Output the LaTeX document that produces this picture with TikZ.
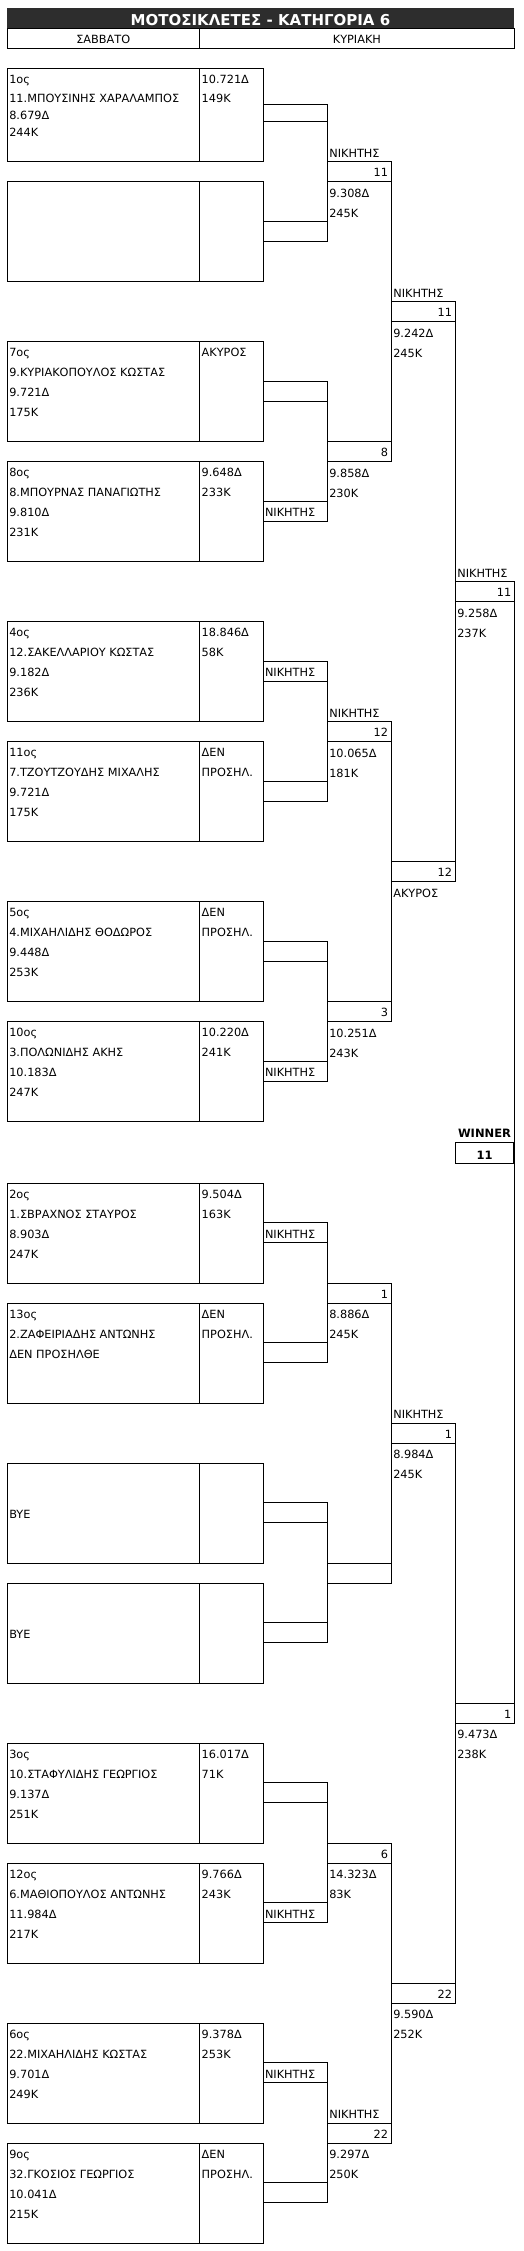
\documentclass[tikz,border=0pt]{standalone}
\usepackage{fontspec}
\setmainfont{DejaVu Sans}
\definecolor{titlegray}{RGB}{45,45,45}
\newcommand\fs{\fontsize{11.3}{13.6}\selectfont}
\tikzset{
 bx/.style={draw, line width=1pt, anchor=north west, inner sep=0pt, outer sep=0pt},
 tl/.style={anchor=base west, inner sep=0pt, outer sep=0pt, font=\fs},
 tr/.style={anchor=base east, inner sep=0pt, outer sep=0pt, font=\fs},
 tc/.style={anchor=base, inner sep=0pt, outer sep=0pt, font=\fs},
 ln/.style={line width=1pt},
}
% player box: name, top, left lines 1-4, right lines 1-2, round-1 cell label
\newcommand\plbox[9]{%
 \node[bx, minimum width=192.5pt, minimum height=100pt] (#1L) at (7,#2) {};
 \node[bx, minimum width=63.5pt, minimum height=100pt] (#1R) at (199.5,#2) {};
 \node[bx, minimum width=64pt, minimum height=20pt] (#1c) at (263,#2+39.5) {};
 \node[tl] (#1t1) at ([xshift=2.3pt,yshift=-15.2pt]#1L.north west) {#3};
 \node[tl] (#1t2) at ([xshift=2.3pt,yshift=-35.2pt]#1L.north west) {#4};
 \node[tl] (#1t3) at ([xshift=2.3pt,yshift=-55.2pt]#1L.north west) {#5};
 \node[tl] (#1t4) at ([xshift=2.3pt,yshift=-75.2pt]#1L.north west) {#6};
 \node[tl] (#1r1) at ([xshift=2.2pt,yshift=-15.2pt]#1R.north west) {#7};
 \node[tl] (#1r2) at ([xshift=2.2pt,yshift=-35.2pt]#1R.north west) {#8};
 \node[tl] (#1cl) at ([xshift=2pt,yshift=-15.2pt]#1c.north west) {#9};
}
% round cell: name, x, width, top, number, label above, below 1, below 2
\newcommand\rcell[8]{%
 \node[bx, minimum width=#3pt, minimum height=20pt] (#1) at (#2,#4) {};
 \node[tr] (#1n) at ([xshift=-3pt,yshift=-15.2pt]#1.north east) {#5};
 \node[tl] (#1a) at ([xshift=2.3pt,yshift=4.7pt]#1.north west) {#6};
 \node[tl] (#1b) at ([xshift=2.3pt,yshift=-15.3pt]#1.south west) {#7};
 \node[tl] (#1c) at ([xshift=2.3pt,yshift=-35.3pt]#1.south west) {#8};
}
\begin{document}
\begin{tikzpicture}[x=1pt,y=-1pt]
\useasboundingbox (0,0) rectangle (523,2251);
% title and header
\node[anchor=north west, fill=titlegray, minimum width=507.3pt, minimum height=20.3pt, inner sep=0pt, outer sep=0pt] (title) at (7,8) {};
\node[anchor=base, inner sep=0pt, text=white, font=\bfseries\fontsize{15}{18}\selectfont] (titlet) at (260.5,25) {ΜΟΤΟΣΙΚΛΕΤΕΣ - ΚΑΤΗΓΟΡΙΑ 6};
\node[bx, minimum width=192.5pt, minimum height=20pt] (sat) at (7,28.3) {};
\node[bx, minimum width=314.8pt, minimum height=20pt] (sun) at (199.5,28.3) {};
\node[tc] (satt) at (103.25,43.8) {ΣΑΒΒΑΤΟ};
\node[tc] (sunt) at (356.9,43.8) {ΚΥΡΙΑΚΗ};

% ---- pair 1 (first box has irregular rows)
\node[bx, minimum width=192.5pt, minimum height=93.4pt] (p1aL) at (7,68.3) {};
\node[bx, minimum width=63.5pt, minimum height=93.4pt] (p1aR) at (199.5,68.3) {};
\node[bx, minimum width=64pt, minimum height=16.7pt] (p1ac) at (263,104.3) {};
\node[tl] (p1at1) at (9.3,83.3) {1ος};
\node[tl] (p1at2) at (9.3,102.7) {11.ΜΠΟΥΣΙΝΗΣ ΧΑΡΑΛΑΜΠΟΣ};
\node[tl] (p1at3) at (9.3,119) {8.679Δ};
\node[tl] (p1at4) at (9.3,136.7) {244K};
\node[tl] (p1ar1) at (201.7,83.3) {10.721Δ};
\node[tl] (p1ar2) at (201.7,102.7) {149K};
\plbox{p1b}{181.7}{}{}{}{}{}{}{}
% ---- pair 2
\plbox{p2a}{341.7}{7ος}{9.ΚΥΡΙΑΚΟΠΟΥΛΟΣ ΚΩΣΤΑΣ}{9.721Δ}{175K}{ΑΚΥΡΟΣ}{}{}
\plbox{p2b}{461.7}{8ος}{8.ΜΠΟΥΡΝΑΣ ΠΑΝΑΓΙΩΤΗΣ}{9.810Δ}{231K}{9.648Δ}{233K}{ΝΙΚΗΤΗΣ}
% ---- pair 3
\plbox{p3a}{621.7}{4ος}{12.ΣΑΚΕΛΛΑΡΙΟΥ ΚΩΣΤΑΣ}{9.182Δ}{236K}{18.846Δ}{58K}{ΝΙΚΗΤΗΣ}
\plbox{p3b}{741.7}{11ος}{7.ΤΖΟΥΤΖΟΥΔΗΣ ΜΙΧΑΛΗΣ}{9.721Δ}{175K}{ΔΕΝ}{ΠΡΟΣΗΛ.}{}
% ---- pair 4
\plbox{p4a}{901.7}{5ος}{4.ΜΙΧΑΗΛΙΔΗΣ ΘΟΔΩΡΟΣ}{9.448Δ}{253K}{ΔΕΝ}{ΠΡΟΣΗΛ.}{}
\plbox{p4b}{1021.7}{10ος}{3.ΠΟΛΩΝΙΔΗΣ ΑΚΗΣ}{10.183Δ}{247K}{10.220Δ}{241K}{ΝΙΚΗΤΗΣ}
% ---- pair 5
\plbox{p5a}{1183.3}{2ος}{1.ΣΒΡΑΧΝΟΣ ΣΤΑΥΡΟΣ}{8.903Δ}{247K}{9.504Δ}{163K}{ΝΙΚΗΤΗΣ}
\plbox{p5b}{1303.3}{13ος}{2.ΖΑΦΕΙΡΙΑΔΗΣ ΑΝΤΩΝΗΣ}{ΔΕΝ ΠΡΟΣΗΛΘΕ}{}{ΔΕΝ}{ΠΡΟΣΗΛ.}{}
% ---- pair 6
\plbox{p6a}{1463.3}{}{}{BYE}{}{}{}{}
\plbox{p6b}{1583.3}{}{}{BYE}{}{}{}{}
% ---- pair 7
\plbox{p7a}{1743.3}{3ος}{10.ΣΤΑΦΥΛΙΔΗΣ ΓΕΩΡΓΙΟΣ}{9.137Δ}{251K}{16.017Δ}{71K}{}
\plbox{p7b}{1863.3}{12ος}{6.ΜΑΘΙΟΠΟΥΛΟΣ ΑΝΤΩΝΗΣ}{11.984Δ}{217K}{9.766Δ}{243K}{ΝΙΚΗΤΗΣ}
% ---- pair 8
\plbox{p8a}{2023.3}{6ος}{22.ΜΙΧΑΗΛΙΔΗΣ ΚΩΣΤΑΣ}{9.701Δ}{249K}{9.378Δ}{253K}{ΝΙΚΗΤΗΣ}
\plbox{p8b}{2143.3}{9ος}{32.ΓΚΟΣΙΟΣ ΓΕΩΡΓΙΟΣ}{10.041Δ}{215K}{ΔΕΝ}{ΠΡΟΣΗΛ.}{}

% ---- round 2 cells
\rcell{r2a}{327}{64}{161.7}{11}{ΝΙΚΗΤΗΣ}{9.308Δ}{245K}
\rcell{r2b}{327}{64}{441.7}{8}{}{9.858Δ}{230K}
\rcell{r2c}{327}{64}{721.7}{12}{ΝΙΚΗΤΗΣ}{10.065Δ}{181K}
\rcell{r2d}{327}{64}{1001.7}{3}{}{10.251Δ}{243K}
\rcell{r2e}{327}{64}{1283.3}{1}{}{8.886Δ}{245K}
\rcell{r2f}{327}{64}{1563.3}{}{}{}{}
\rcell{r2g}{327}{64}{1843.3}{6}{}{14.323Δ}{83K}
\rcell{r2h}{327}{64}{2123.3}{22}{ΝΙΚΗΤΗΣ}{9.297Δ}{250K}
% ---- round 3 cells
\rcell{r3a}{391}{64}{301.7}{11}{ΝΙΚΗΤΗΣ}{9.242Δ}{245K}
\rcell{r3b}{391}{64}{861.7}{12}{}{ΑΚΥΡΟΣ}{}
\rcell{r3c}{391}{64}{1423.3}{1}{ΝΙΚΗΤΗΣ}{8.984Δ}{245K}
\rcell{r3d}{391}{64}{1983.3}{22}{}{9.590Δ}{252K}
% ---- round 4 cells
\rcell{r4a}{455}{59.3}{581.7}{11}{ΝΙΚΗΤΗΣ}{9.258Δ}{237K}
\rcell{r4b}{455}{59.3}{1703.3}{1}{}{9.473Δ}{238K}

% ---- winner
\node[bx, minimum width=58pt, minimum height=21pt] (win) at (455,1142.3) {};
\node[anchor=base, inner sep=0pt, font=\bfseries\fontsize{11.5}{14}\selectfont] (wint) at (484.5,1137.7) {WINNER};
\node[anchor=base, inner sep=0pt, font=\bfseries\fontsize{11.5}{14}\selectfont] (winn) at (484.5,1159) {11};

% ---- connectors
\draw[ln] (p1ac.north east) -- (p1bc.south east);
\draw[ln] (p2ac.north east) -- (p2bc.south east);
\draw[ln] (p3ac.north east) -- (p3bc.south east);
\draw[ln] (p4ac.north east) -- (p4bc.south east);
\draw[ln] (p5ac.north east) -- (p5bc.south east);
\draw[ln] (p6ac.north east) -- (p6bc.south east);
\draw[ln] (p7ac.north east) -- (p7bc.south east);
\draw[ln] (p8ac.north east) -- (p8bc.south east);
\draw[ln] (r2a.north east) -- (r2b.south east);
\draw[ln] (r2c.north east) -- (r2d.south east);
\draw[ln] (r2e.north east) -- (r2f.south east);
\draw[ln] (r2g.north east) -- (r2h.south east);
\draw[ln] (r3a.north east) -- (r3b.south east);
\draw[ln] (r3c.north east) -- (r3d.south east);
\draw[ln] (r4a.north east) -- (r4b.south east);
\end{tikzpicture}
\end{document}
